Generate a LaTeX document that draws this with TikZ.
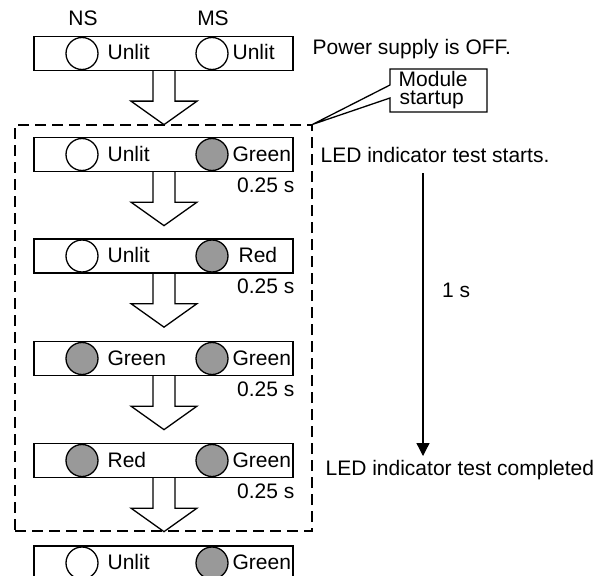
\documentclass[tikz,border=0pt]{standalone}
\usepackage{fontspec}
\setmainfont{Liberation Sans}
\usetikzlibrary{arrows.meta}
\definecolor{ledgray}{RGB}{153,153,153}
\begin{document}
\begin{tikzpicture}[x=1pt,y=-1pt,
  font=\fontsize{21}{24}\selectfont, line width=1.3pt,
  panel/.style={draw, minimum width=259pt, minimum height=34pt, inner sep=0pt},
  led/.style={circle, draw, minimum size=32pt, inner sep=0pt},
  ledon/.style={led, fill=ledgray},
  ledoff/.style={led, fill=white},
  txt/.style={inner sep=0pt, anchor=base west},
  rtxt/.style={inner sep=0pt, anchor=base east},
  blockarrow/.style={draw, line join=miter},
  grpbox/.style={draw, dash pattern=on 11pt off 6pt, inner sep=0pt}]
\useasboundingbox (0,0) rectangle (599,575);
\clip (0,0) rectangle (599,575);

% column headings
\node[inner sep=0pt, anchor=base] (ns) at (83,26) {NS};
\node[inner sep=0pt, anchor=base] (ms) at (213,26) {MS};

% panels
\foreach \i/\yc/\ls/\lt/\rs/\rt/\rx in {
  1/53.5/ledoff/Unlit/ledoff/Unlit/232,
  2/154.5/ledoff/Unlit/ledon/Green/232,
  3/256/ledoff/Unlit/ledon/Red/238,
  4/358.5/ledon/Green/ledon/Green/232,
  5/460.5/ledon/Red/ledon/Green/232,
  6/563/ledoff/Unlit/ledon/Green/232}{
  \node[panel] (p\i) at (163.5,\yc) {};
  \node[\ls] (l\i) at (82,\yc) {};
  \node[txt] (lt\i) at (107,\yc+6.5) {\lt};
  \node[\rs] (r\i) at (212,\yc) {};
  \node[txt] (rt\i) at (\rx,\yc+6.5) {\rt};
}

% block arrows between panels
\foreach \i in {1,...,5}{
  \draw[blockarrow] ([xshift=-11pt]p\i.south) ++(0.5,0) -- ++(0,30) -- ++(-22,0)
     -- ++(33,23.5) -- ++(33,-23.5) -- ++(-22,0) -- ++(0,-30);
}

% 0.25 s labels
\foreach \i in {2,...,5}{
  \node[rtxt] (t\i) at ([yshift=-20pt]p\i.south -| 295,0) {0.25 s};
}

% dashed group
\node[grpbox, minimum width=297pt, minimum height=406pt] (grp) at (163.5,328) {};

% callout "Module startup"
\draw (grp.north east) -- (390,85) -- (390,69) -- (487,69) -- (487,112)
  -- (390,112) -- (390,98) -- cycle;
\node[txt] (mod1) at (398,86.5) {Module};
\node[txt] (mod2) at (399,104.5) {startup};

% right-hand texts
\node[txt] (off) at (312,55) {Power supply is OFF.};
\node[txt] (starts) at (320,162) {LED indicator test starts.};
\node[txt] (done) at (325,475) {LED indicator test completed};
\coordinate (a1) at (423,173);
\coordinate (a2) at (423,456);
\draw[-{Triangle[length=13pt,width=13pt]}] (a1) -- (a2);
\node[txt] (one) at (441.5,297) {1 s};
\end{tikzpicture}
\end{document}
